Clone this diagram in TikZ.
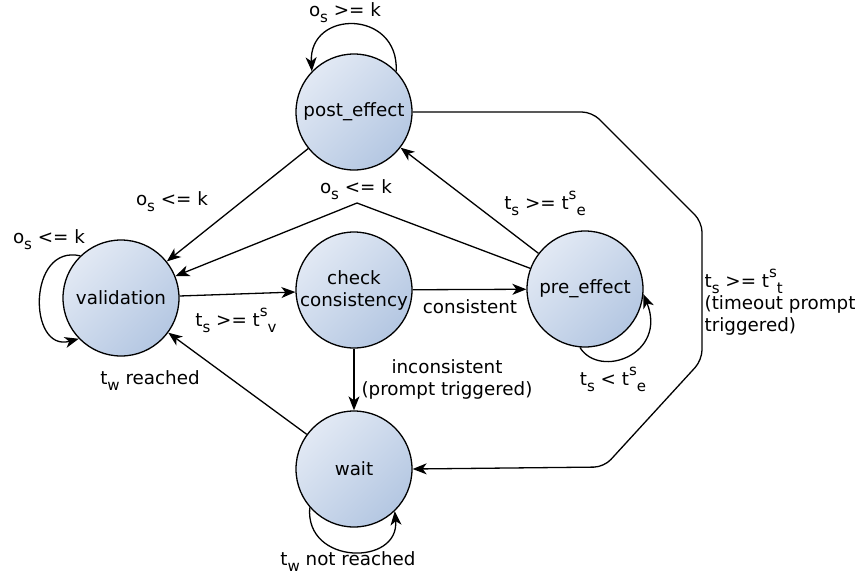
\documentclass[tikz,border=0pt]{standalone}
\usepackage{fontspec}
\setmainfont{DejaVu Sans}
\usetikzlibrary{arrows.meta}
\definecolor{stTop}{HTML}{E2E9F4}
\definecolor{stBot}{HTML}{B4C7E2}
\newcommand\lowtxt[1]{\raisebox{-6pt}{\fontsize{15}{15}\selectfont#1}}
\newcommand\hightxt[1]{\raisebox{10pt}{\fontsize{15}{15}\selectfont#1}}

\begin{document}
\begin{tikzpicture}[x=1pt, y=-1pt, line width=1.3pt, font=\fontsize{18.3}{22}\selectfont,
  >={Stealth[length=14pt, width=11pt, inset=4pt]},
  state/.style={circle, draw, minimum size=116pt, inner sep=0pt, align=center,
    top color=stTop, bottom color=stBot, shading angle=45},
  lbl/.style={inner sep=1pt, align=center}]
\useasboundingbox (0,0) rectangle (864,579);
\node[state] (post) at (354,112) {post\_effect};
\node[state] (val)  at (121,298) {validation};
\node[state] (chk)  at (354,290) {check\\consistency};
\node[state] (pre)  at (585,289) {pre\_effect};
\node[state] (wait) at (354,469) {wait};
\coordinate (bend) at (357,203);
\coordinate (c1) at (592,112);
\coordinate (c2) at (702,222);
\coordinate (c3) at (702,360);
\coordinate (c4) at (604,467);
% self loops
\draw[->] (post.44) .. controls +(3,-62) and +(-3,-62) .. (post.136);
\draw[->] (val.134) .. controls +(-53,-12) and +(-51,14) .. (val.224);
\draw[->] (pre.265) .. controls +(20,32) and +(24,60) .. (pre.355);
\draw[->] (wait.221) .. controls +(-5,58) and +(5,55) .. (wait.314);
% transitions
\draw[->] (post) -- (val);
\draw[->] (pre) -- (bend) -- (val);
\draw[->] (pre) -- (post);
\draw[->] (val) -- (chk);
\draw[->] (chk) -- (pre);
\draw[->] (chk) -- (wait);
\draw[->] (wait) -- (val);
\draw[->, rounded corners=10pt] (post.east) -- (c1) -- (c2) -- (c3) -- (c4) -- (wait.east);
% labels
\node[lbl] (lpost) at (345,13) {o\lowtxt{s} >= k};
\node[lbl] (lval) at (49,240) {o\lowtxt{s} <= k};
\node[lbl] (lpv) at (172,202) {o\lowtxt{s} <= k};
\node[lbl] (lbend) at (356,190) {o\lowtxt{s} <= k};
\node[lbl] (lpp) at (545,203) {t\lowtxt{s} >= t\hightxt{s}\lowtxt{e}};
\node[lbl] (lvc) at (236,320) {t\lowtxt{s} >= t\hightxt{s}\lowtxt{v}};
\node[lbl] (lcp) at (470,307) {consistent};
\node[lbl] (lcw) at (447,379) {inconsistent\\(prompt triggered)};
\node[lbl] (lwv) at (150,381) {t\lowtxt{w} reached};
\node[lbl] (lpre) at (613,379) {t\lowtxt{s} < t\hightxt{s}\lowtxt{e}};
\node[lbl] (lwait) at (348,562) {t\lowtxt{w} not reached};
\node[lbl, anchor=west, align=left] (lto) at (703,302) {t\lowtxt{s} >= t\hightxt{s}\lowtxt{t}\\(timeout prompt\\triggered)};
\end{tikzpicture}
\end{document}
